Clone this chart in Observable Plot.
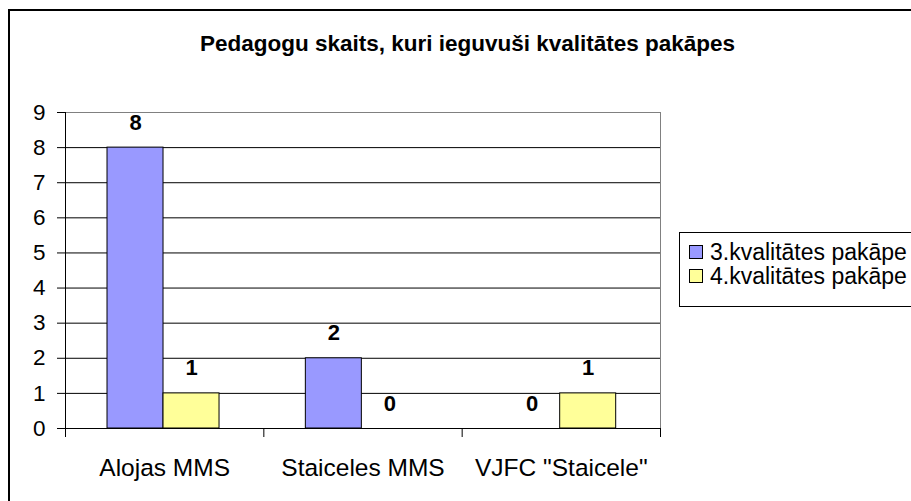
<!DOCTYPE html>
<html><head><meta charset="utf-8">
<script src="https://cdn.jsdelivr.net/npm/d3@7"></script>
<script src="https://cdn.jsdelivr.net/npm/@observablehq/plot@0.6"></script>
<style>
html,body{margin:0;padding:0;background:#fff;overflow:hidden;width:911px;height:501px;}
#wrap{position:absolute;left:0;top:0;width:911px;height:501px;font-family:"Liberation Sans",Arial,sans-serif;}
#border{position:absolute;left:8px;top:9px;width:1000px;height:600px;border-left:2px solid #000;border-top:2px solid #000;}
#chart{position:absolute;left:0;top:0;}
#legend{position:absolute;left:679px;top:232px;width:300px;height:73px;border:1.5px solid #000;background:#fff;}
.item{position:absolute;left:0;height:24px;line-height:24px;font-size:23px;color:#000;white-space:nowrap;}
.sw{position:absolute;left:9px;top:5px;width:12px;height:12px;border:1px solid #000;}
.lt{position:absolute;left:30px;top:0;}
</style></head>
<body>
<div id="wrap"><div id="border"></div><div id="chart"></div><div id="legend"></div></div>
<script>
const title = "Pedagogu skaits, kuri ieguvuši kvalitātes pakāpes";
const categories = ["Alojas MMS", "Staiceles MMS", "VJFC \"Staicele\""];
const series = ["3.kvalitātes pakāpe", "4.kvalitātes pakāpe"];
const values3 = [8, 2, 0];
const values4 = [1, 0, 1];
const yTicks = [0, 1, 2, 3, 4, 5, 6, 7, 8, 9];
const colors = ["#9999FF", "#FFFF99"];

const pad = 0.2118, bw = 0.2824;
const data = categories.flatMap((c, i) => series.map((s, j) => ({cat: c, i, s, j, v: j === 0 ? values3[i] : values4[i]})));

const font = "'Liberation Sans', Arial, sans-serif";
const chart = Plot.plot({
  width: 911, height: 501,
  marginLeft: 65, marginRight: 251, marginTop: 112, marginBottom: 73,
  x: {domain: [0, categories.length]},
  y: {domain: [0, 9]},
  color: {domain: series, range: colors},
  style: {fontFamily: font, fontSize: "22px", background: "transparent", overflow: "visible", color: "#000"},
  marks: [
    Plot.gridY(yTicks, {stroke: "#000", strokeOpacity: 1}),
    Plot.ruleY([9], {stroke: "#808080"}),
    Plot.ruleX([categories.length], {stroke: "#808080"}),
    Plot.rectY(data, {x1: d => d.i + pad + d.j * bw, x2: d => d.i + pad + (d.j + 1) * bw, y1: 0, y2: "v", fill: "s", stroke: "#000", strokeWidth: 1}),
    Plot.ruleX([0], {stroke: "#000"}),
    Plot.ruleY([0], {stroke: "#000"}),
    Plot.axisY({ticks: yTicks, tickSize: 8, tickPadding: 12, label: null, tickFormat: d => String(d), fontSize: 22.5}),
    Plot.axisX({ticks: d3.range(categories.length + 1), tickSize: 9, tickFormat: () => "", label: null}),
    Plot.axisX({ticks: categories.map((c, i) => i + 0.5), tickFormat: d => categories[Math.floor(d)], tickSize: 0, tickPadding: 30, label: null, fontSize: 24.5}),
    Plot.text(data, {x: d => d.i + pad + (d.j + 0.5) * bw, y: "v", text: d => String(d.v), dy: -25, fontWeight: "bold", fontSize: 22, lineAnchor: "middle"}),
    Plot.text([title], {frameAnchor: "top", dy: -69.2, dx: 104.5, fontWeight: "bold", fontSize: 22.5, lineAnchor: "middle"})
  ]
});
document.getElementById("chart").appendChild(chart);

const legend = document.getElementById("legend");
series.forEach((s, j) => {
  const it = document.createElement("div");
  it.className = "item";
  it.style.top = (7 + j * 23.5) + "px";
  const sw = document.createElement("span");
  sw.className = "sw";
  sw.style.background = colors[j];
  const t = document.createElement("span");
  t.className = "lt";
  t.textContent = s;
  it.appendChild(sw); it.appendChild(t);
  legend.appendChild(it);
});
</script>
</body></html>
